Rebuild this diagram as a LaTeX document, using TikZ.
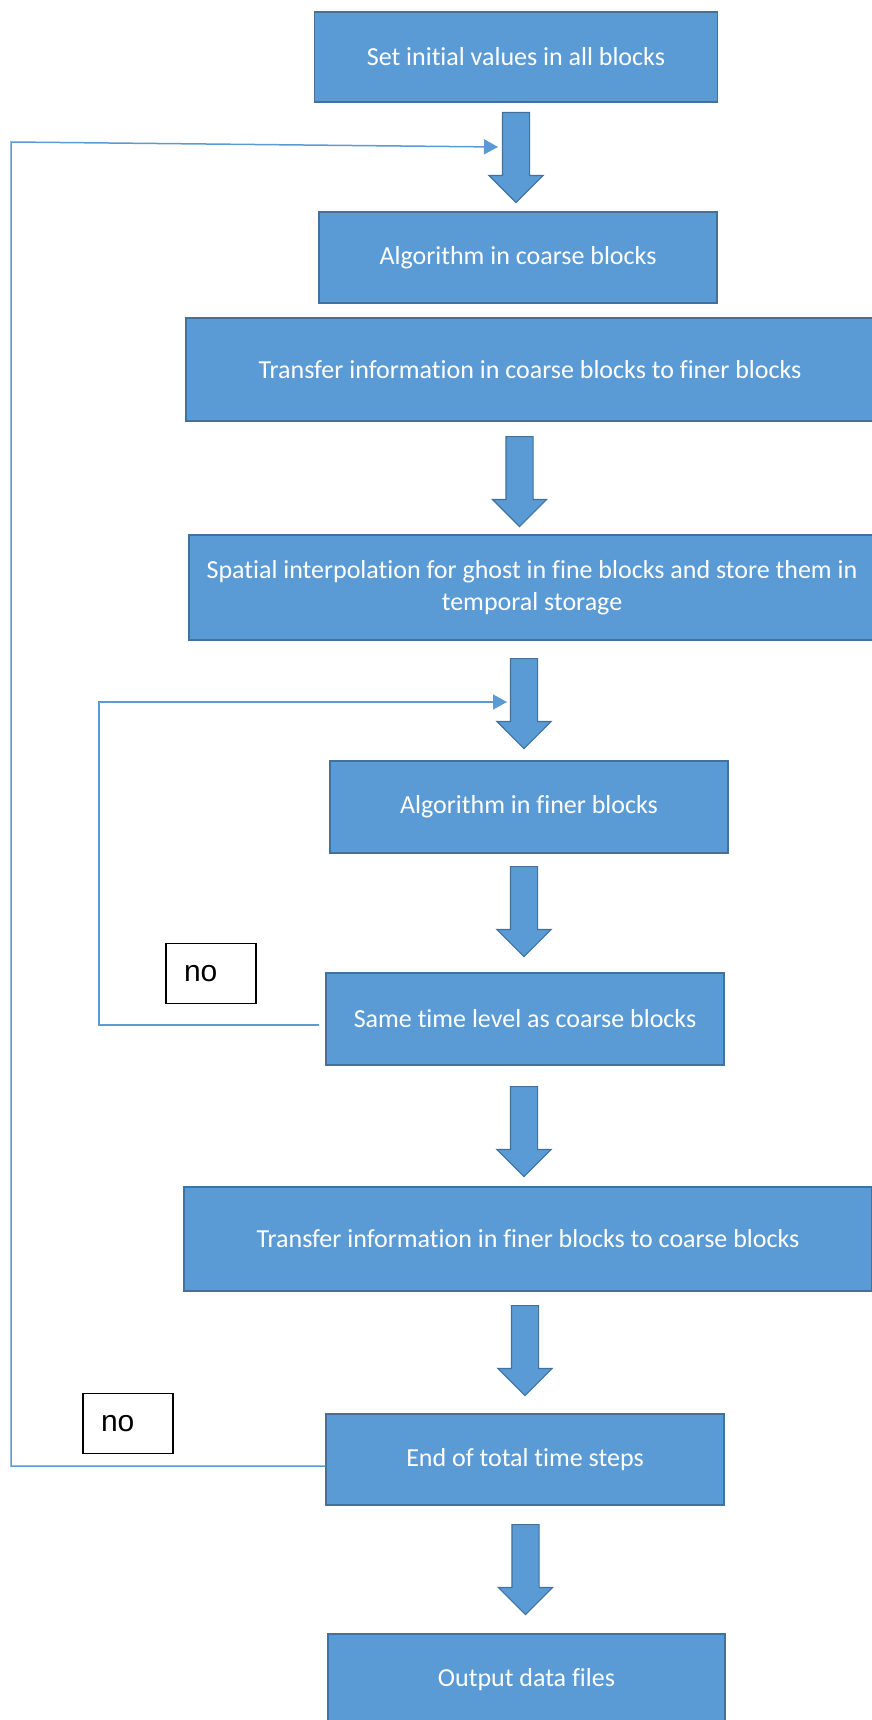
\documentclass[tikz,border=0pt]{standalone}
\usepackage{fontspec}
\setmainfont[Ligatures=NoCommon]{Carlito}
\newfontfamily\nofont{Liberation Sans}
\usepackage{tikz}
\usetikzlibrary{shapes.arrows, arrows.meta}

\definecolor{boxblue}{HTML}{5B9BD5}
\definecolor{boxedge}{HTML}{41719C}

\tikzset{
    flowbox/.style={rectangle, fill=boxblue, draw=boxedge, line width=1.5pt, text=white,
        inner sep=0pt, align=center, font=\fontsize{26}{32}\selectfont},
    bigarrow/.style={single arrow, shape border rotate=270, fill=boxblue, draw=boxedge,
        line width=1.2pt, minimum height=90pt, inner sep=13pt,
        single arrow head extend=13.5pt, anchor=tail},
    nobox/.style={rectangle, draw=black, fill=white, line width=1.5pt, text width=54pt,
        align=left, inner xsep=18pt, minimum height=60pt, font=\nofont\fontsize{30}{30}\selectfont},
    loopline/.style={draw=boxblue, line width=1.5pt, -{Triangle[length=14pt,width=15pt]}}
}

\begin{document}
\begin{tikzpicture}[x=1pt, y=-1pt]
        \useasboundingbox (0,0) rectangle (871,1720);
        \node[flowbox, minimum width=403pt, minimum height=90pt] (setinit) at (516,57) {Set initial values in all blocks};
        \node[flowbox, minimum width=398pt, minimum height=91pt] (algcoarse) at (518,257.5) {Algorithm in coarse blocks};
        \node[flowbox, minimum width=688pt, minimum height=103pt] (tofine) at (530,369.5) {Transfer information in coarse blocks to finer blocks};
        \node[flowbox, minimum width=686pt, minimum height=105pt] (interp) at (532,587.5) {Spatial interpolation for ghost in fine blocks and store them in\\ temporal storage};
        \node[flowbox, minimum width=398pt, minimum height=92pt] (algfine) at (529,807) {Algorithm in finer blocks};
        \node[flowbox, minimum width=398pt, minimum height=92pt] (sametime) at (525,1019) {Same time level as coarse blocks};
        \node[flowbox, minimum width=688pt, minimum height=104pt] (tocoarse) at (528,1239) {Transfer information in finer blocks to coarse blocks};
        \node[flowbox, minimum width=398pt, minimum height=91pt] (endtime) at (525,1459.5) {End of total time steps};
        \node[flowbox, minimum width=397pt, minimum height=92pt] (output) at (526.5,1680) {Output data files};

        \node[bigarrow] (a1) at (516,112) {};
        \node[bigarrow] (a2) at (519.5,436) {};
        \node[bigarrow] (a3) at (524,658) {};
        \node[bigarrow] (a4) at (524,866) {};
        \node[bigarrow] (a5) at (524,1086) {};
        \node[bigarrow] (a6) at (525,1305) {};
        \node[bigarrow] (a7) at (525.5,1524) {};

        \node[nobox] (no1) at (211,973.5) {no};
        \node[nobox] (no2) at (128,1423.5) {no};

        \draw[loopline] ([xshift=-6pt,yshift=-6pt]sametime.west) -| (99,702) -- (507,702);
        \draw[loopline] ([yshift=-6.5pt]endtime.west) -| (11,142) -- (498,147);
    \end{tikzpicture}
\end{document}
